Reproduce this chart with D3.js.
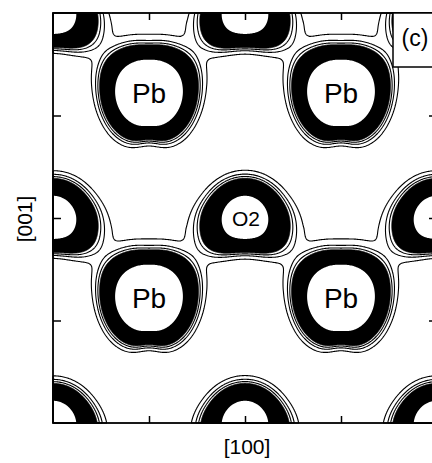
<!DOCTYPE html>
<html>
<head>
<meta charset="utf-8">
<script src="https://cdn.jsdelivr.net/npm/d3@7"></script>
<style>
body { margin: 0; background: #fff; }
svg { display: block; font-family: "Liberation Sans", Arial, sans-serif; }
</style>
</head>
<body>
<div id="chart"></div>
<script>
// atom sites, in units of the [100] / [001] tick spacing
let oxygenX = [0, 2, 4];
let oxygenY = [0, 2, 4];
let leadX = [1, 3];
let leadY = [1.22, 3.22];
let oxygenLabels = [{x: 2, y: 2, name: "O2"}];
let xTicks = [1, 2, 3];
let yTicks = [1, 2, 3];
// contour levels of the (relative) density
let lineLevels = [0.25, 0.45, 0.70];
let bandLevels = [1, 54.6];

// shape of the model density round each kind of atom
// lobes: [angle (deg, y up), amplitude, width (deg)]
let shapes = {
    Pb: {R: 47.5, lambda: 3.5, r0: 20, s: 30, tail: 0.6, tailLobes: [[90, 1.2, 50]],
        lobes: [[40, 0.10, 22], [140, 0.10, 22], [-60, 0.06, 22], [-120, 0.06, 22], [-90, -0.08, 10], [90, -0.03, 10]]},
    O: {R: 39, lambda: 4.2, r0: 10, s: 25, tail: 0.45, tailLobes: [],
        lobes: [[-40, 0.14, 22], [-140, 0.14, 22], [0, 0.06, 20], [180, 0.06, 20], [-90, -0.16, 25]]}
};

let W = 432, H = 463;
let x = d3.scaleLinear().domain([0, 4]).range([53, 437]);
let y = d3.scaleLinear().domain([0, 4]).range([423, 13]);

let atoms = [];
oxygenX.forEach(ax => oxygenY.forEach(ay => atoms.push({type: "O", cx: x(ax), cy: y(ay)})));
leadX.forEach(ax => leadY.forEach(ay => atoms.push({type: "Pb", cx: x(ax), cy: y(ay)})));

function lobeSum(lobes, th) {
    let s = 0;
    lobes.forEach(([ang, amp, w]) => {
        let dd = ((th - ang + 540) % 360) - 180;
        s += amp * Math.exp(-dd * dd / (2 * w * w));
    });
    return s;
}

function density(px, py) {
    let f = 0;
    atoms.forEach(a => {
        let dx = px - a.cx, dy = a.cy - py;
        let d = Math.hypot(dx, dy);
        if (d > 170) return;
        let sh = shapes[a.type];
        let th = Math.atan2(dy, dx) * 180 / Math.PI;
        let ramp = Math.max(0, Math.min(2, (d - sh.r0) / sh.s));
        let de = d / (1 + lobeSum(sh.lobes, th) * ramp);
        f += Math.exp(-(de - sh.R) / sh.lambda)
            + sh.tail * (1 + lobeSum(sh.tailLobes, th)) * Math.exp(-d / 30);
    });
    return f;
}

let x0 = x(0), y0 = y(4);
let n = Math.round(x(4) - x(0)), m = Math.round(y(0) - y(4));
let values = new Float64Array(n * m);
for (let j = 0; j < m; j++) {
    for (let i = 0; i < n; i++) {
        values[i + j * n] = density(x0 + i + 0.5, y0 + j + 0.5);
    }
}

let svg = d3.select("#chart").append("svg")
    .attr("width", W)
    .attr("height", H);

let path = d3.geoPath(d3.geoIdentity().translate([x0, y0]));
let contours = d3.contours().size([n, m]);

let g = svg.append("g");

// black band
g.append("path")
    .datum(contours.contour(values, bandLevels[0]))
    .attr("d", path)
    .attr("fill", "#000")
    .attr("stroke", "#000")
    .attr("stroke-width", 0.8);
g.append("path")
    .datum(contours.contour(values, bandLevels[1]))
    .attr("d", path)
    .attr("fill", "#fff");

// thin contour lines
g.selectAll(".line")
    .data(lineLevels.map(l => contours.contour(values, l)))
    .enter().append("path")
    .attr("class", "line")
    .attr("d", path)
    .attr("fill", "none")
    .attr("stroke", "#000")
    .attr("stroke-width", 1.1);

// labels
g.selectAll(".pb")
    .data(leadX.flatMap(ax => leadY.map(ay => ({x: ax, y: ay}))))
    .enter().append("text")
    .attr("x", d => x(d.x))
    .attr("y", d => y(d.y) + 10)
    .attr("text-anchor", "middle")
    .attr("font-size", 28)
    .text("Pb");

g.selectAll(".ol")
    .data(oxygenLabels)
    .enter().append("text")
    .attr("x", d => x(d.x) + 1)
    .attr("y", d => y(d.y) + 8)
    .attr("text-anchor", "middle")
    .attr("font-size", 21)
    .text(d => d.name);

// ticks
let tick = 7;
svg.append("g").attr("transform", "translate(0," + y(0) + ")")
    .call(d3.axisBottom(x).tickValues(xTicks).tickSize(-tick).tickFormat(""))
    .call(a => a.select(".domain").remove());
svg.append("g").attr("transform", "translate(0," + y(4) + ")")
    .call(d3.axisTop(x).tickValues(xTicks).tickSize(-tick).tickFormat(""))
    .call(a => a.select(".domain").remove());
svg.append("g").attr("transform", "translate(" + x(0) + ",0)")
    .call(d3.axisLeft(y).tickValues(yTicks).tickSize(-8).tickFormat(""))
    .call(a => a.select(".domain").remove());
svg.append("g").attr("transform", "translate(" + x(4) + ",0)")
    .call(d3.axisRight(y).tickValues(yTicks).tickSize(-8).tickFormat(""))
    .call(a => a.select(".domain").remove());
svg.selectAll(".tick line").attr("stroke", "#000").attr("stroke-width", 1.5);

// frame
svg.append("rect")
    .attr("x", x(0)).attr("y", y(4))
    .attr("width", x(4) - x(0)).attr("height", y(0) - y(4))
    .attr("fill", "none").attr("stroke", "#000").attr("stroke-width", 1.8);

// panel tag
svg.append("rect")
    .attr("x", 393).attr("y", y(4))
    .attr("width", x(4) - 393).attr("height", 54)
    .attr("fill", "#fff").attr("stroke", "#000").attr("stroke-width", 1.5);
svg.append("text")
    .attr("x", 415).attr("y", 46)
    .attr("text-anchor", "middle")
    .attr("font-size", 23)
    .text("(c)");

// axis titles
svg.append("text")
    .attr("x", 247).attr("y", 454)
    .attr("text-anchor", "middle")
    .attr("font-size", 21)
    .text("[100]");
svg.append("text")
    .attr("transform", "translate(32,219) rotate(-90)")
    .attr("text-anchor", "middle")
    .attr("font-size", 21)
    .text("[001]");
</script>
</body>
</html>
